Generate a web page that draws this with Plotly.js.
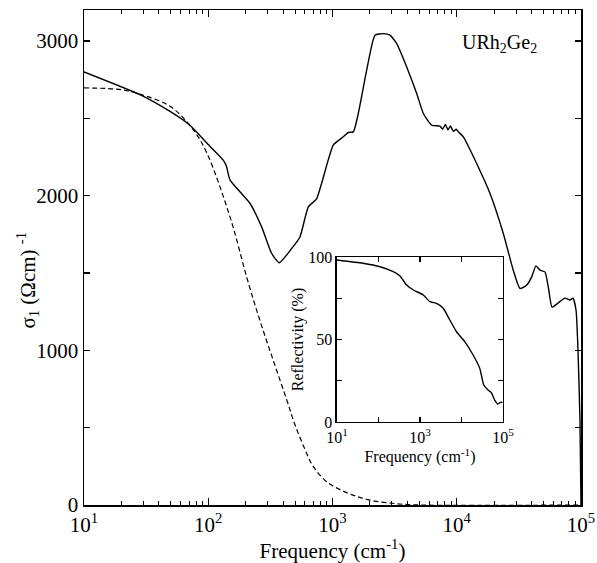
<!DOCTYPE html>
<html>
<head>
<meta charset="utf-8">
<script src="https://cdn.plot.ly/plotly-3.0.1.min.js"></script>
<style>html,body{margin:0;padding:0;background:#fff;}#chart{width:597px;height:563px;}</style>
</head>
<body>
<div id="chart"></div>
<script>
// Main panel: optical conductivity sigma_1 (1/(Ohm cm)) vs frequency (cm^-1)
const sigmaFreq = [10, 28.2, 50, 71.3, 100, 132, 140, 150, 217, 269, 324, 373, 470, 547, 639, 746, 1014, 1222, 1341, 1470, 1613, 1884, 2198, 2565, 2904, 3287, 3956, 4760, 5385, 6285, 7331, 7700, 8100, 8500, 8900, 9400, 9900, 10300, 11300, 14460, 18530, 23700, 28500, 32260, 36500, 40100, 43400, 46800, 51300, 54500, 58500, 65300, 74300, 81500, 86200, 91200, 94600, 98100, 100000];
const sigmaVal  = [2800, 2653, 2541, 2455, 2330, 2229, 2190, 2100, 1949, 1798, 1626, 1566, 1659, 1733, 1927, 1981, 2326, 2380, 2408, 2412, 2531, 2811, 3037, 3047, 3037, 2983, 2832, 2660, 2531, 2455, 2449, 2430, 2460, 2425, 2450, 2415, 2430, 2412, 2380, 2208, 2014, 1755, 1518, 1400, 1421, 1475, 1546, 1518, 1507, 1411, 1279, 1305, 1337, 1325, 1337, 1260, 1000, 550, 0];

// Drude fit (dashed)
const drudeFreq = [10, 20, 28.2, 50, 78, 97.6, 124.5, 158.6, 204, 260, 333, 429, 498, 600, 699, 900, 1299, 1999, 3300, 5050, 100000];
const drudeVal  = [2696, 2685, 2656, 2574, 2412, 2274, 2055, 1796, 1473, 1195, 937, 678, 520, 360, 250, 150, 80, 32, 8, 0, 0];

// Inset: reflectivity (%) vs frequency
const reflFreq = [10, 42.4, 109, 227, 330, 477, 692, 1202, 1738, 2512, 3631, 5248, 7586, 12000, 19100, 27600, 34400, 43700, 52500, 63100, 75900, 87000, 97300];
const reflVal  = [98.2, 96.2, 94.1, 91.1, 88.5, 83, 80, 77, 72.9, 71.9, 68.9, 61.8, 54.7, 48.7, 40.6, 32.5, 22.4, 19.4, 17.8, 13.3, 10.9, 11.9, 11.9];

// Tick labels
const mainXTicks = [10, 100, 1000, 10000, 100000];
const mainXText = ['10<sup>1</sup>', '10<sup>2</sup>', '10<sup>3</sup>', '10<sup>4</sup>', '10<sup>5</sup>'];
const mainYTicks = [0, 500, 1000, 1500, 2000, 2500, 3000];
const mainYText = ['0', '', '1000', '', '2000', '', '3000'];
const insetXText = ['10<sup>1</sup>', '', '10<sup>3</sup>', '', '10<sup>5</sup>'];
const insetYTicks = [0, 25, 50, 75, 100];
const insetYText = ['0', '', '50', '', '100'];

const minorX = [];
for (let d = 10; d < 100000; d *= 10) for (let k = 2; k <= 9; k++) minorX.push(d * k);

const font = 'Liberation Serif, Times New Roman, serif';

const traces = [
  {x: sigmaFreq, y: sigmaVal, type: 'scatter', mode: 'lines', line: {color: '#000', width: 1.4, shape: 'spline', smoothing: 0.5}, xaxis: 'x', yaxis: 'y', hoverinfo: 'skip'},
  {x: drudeFreq, y: drudeVal, type: 'scatter', mode: 'lines', line: {color: '#000', width: 1.2, dash: '5px,3px', shape: 'spline', smoothing: 1}, xaxis: 'x', yaxis: 'y', hoverinfo: 'skip'},
  {x: reflFreq, y: reflVal, type: 'scatter', mode: 'lines', line: {color: '#000', width: 1.4, shape: 'spline', smoothing: 0.5}, xaxis: 'x2', yaxis: 'y2', hoverinfo: 'skip'}
];

const axisCommon = {showgrid: false, zeroline: false, showline: true, linecolor: '#000', linewidth: 1.5, mirror: 'allticks', ticks: 'inside', tickcolor: '#000', tickwidth: 1.2};

const layout = {
  width: 597, height: 563,
  margin: {l: 84, r: 16, t: 10, b: 58},
  paper_bgcolor: '#fff', plot_bgcolor: 'rgba(0,0,0,0)',
  showlegend: false,
  font: {family: font, color: '#000', size: 21},
  xaxis: Object.assign({}, axisCommon, {
    type: 'log', range: [1, 5], domain: [0, 1], anchor: 'y',
    tickmode: 'array', tickvals: mainXTicks, ticktext: mainXText, ticklen: 7,
    tickfont: {family: font, size: 21, color: '#000'},
    minor: {tickmode: 'array', tickvals: minorX, ticks: 'inside', ticklen: 4, tickcolor: '#000', tickwidth: 1},
    title: {text: 'Frequency (cm<sup>-1</sup>)', font: {family: font, size: 21, color: '#000'}, standoff: 1}
  }),
  yaxis: Object.assign({}, axisCommon, {
    range: [0, 3200], domain: [0, 1], anchor: 'x',
    tickmode: 'array', tickvals: mainYTicks, ticktext: mainYText, ticklen: 6,
    tickfont: {family: font, size: 21, color: '#000'}
  }),
  xaxis2: Object.assign({}, axisCommon, {
    type: 'log', range: [1, 5], domain: [0.509, 0.843], anchor: 'y2',
    tickmode: 'array', tickvals: mainXTicks, ticktext: insetXText, ticklen: 5,
    tickfont: {family: font, size: 16, color: '#000'},
    title: {text: 'Frequency (cm<sup>-1</sup>)', font: {family: font, size: 16, color: '#000'}, standoff: 1}
  }),
  yaxis2: Object.assign({}, axisCommon, {
    range: [0, 100], domain: [0.1677, 0.501], anchor: 'x2',
    tickmode: 'array', tickvals: insetYTicks, ticktext: insetYText, ticklen: 5,
    tickfont: {family: font, size: 16, color: '#000'},
    title: {text: 'Reflectivity (%)', font: {family: font, size: 16, color: '#000'}, standoff: 0}
  }),
  annotations: [
    {xref: 'paper', yref: 'paper', x: 0.837, y: 0.933, text: 'URh<sub>2</sub>Ge<sub>2</sub>', showarrow: false, font: {family: font, size: 20, color: '#000'}, xanchor: 'center', yanchor: 'middle'},
    {xref: 'paper', yref: 'paper', x: -0.113, y: 0.455, text: 'σ<sub>1</sub>\u00A0(Ωcm)\u00A0<sup>-1</sup>', textangle: -90, showarrow: false, font: {family: font, size: 21, color: '#000'}, xanchor: 'center', yanchor: 'middle'}
  ]
};

Plotly.newPlot('chart', traces, layout, {displayModeBar: false, staticPlot: true});
</script>
</body>
</html>
